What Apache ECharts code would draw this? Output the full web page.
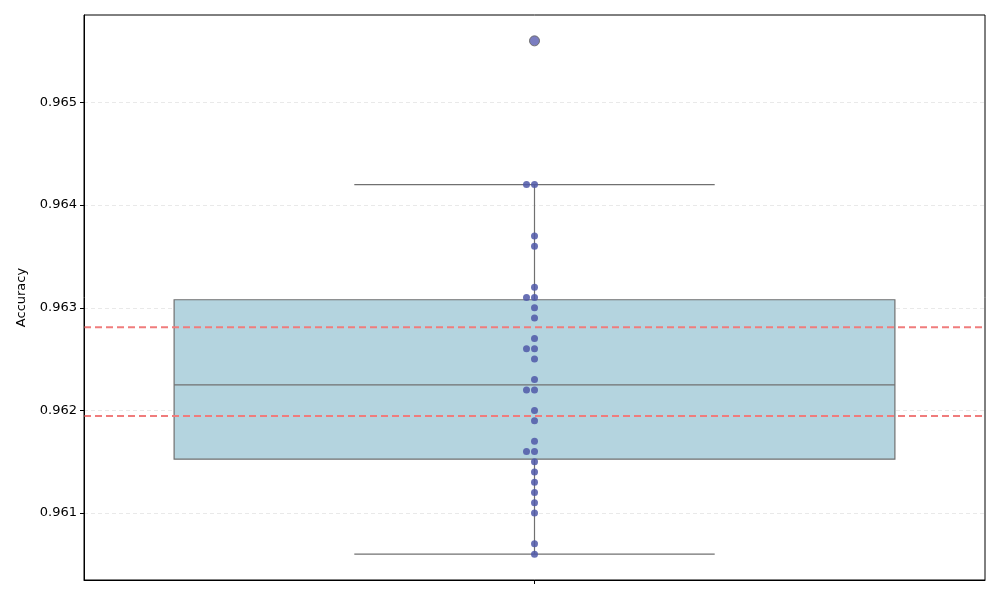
<!DOCTYPE html>
<html><head><meta charset="utf-8">
<script src="https://cdn.jsdelivr.net/npm/echarts@6/dist/echarts.min.js"></script>
<style>html,body{margin:0;padding:0;background:#fff}#c{width:1000px;height:600px}</style>
</head><body><div id="c"></div>
<script>
const categories = [''];
// [lower whisker, Q1, median, Q3, upper whisker]
const boxStats = [0.9606, 0.961525, 0.962248, 0.963078, 0.9642];
const outliers = [0.9656];
const swarmValues = [
  0.9656, 0.9642, 0.9642, 0.9637, 0.9636, 0.9632, 0.9631, 0.9631, 0.9630, 0.9629,
  0.9627, 0.9626, 0.9626, 0.9625, 0.9623, 0.9622, 0.9622, 0.9620, 0.9619, 0.9617,
  0.9616, 0.9616, 0.9615, 0.9614, 0.9613, 0.9612, 0.9611, 0.9610, 0.9607, 0.9606
];
const refLines = [0.96281, 0.961946];
const yTicks = [0.961, 0.962, 0.963, 0.964, 0.965];

const seen = {};
const swarmData = swarmValues.map(v => {
  const k = v.toFixed(4);
  seen[k] = (seen[k] || 0) + 1;
  return { value: [0, v], symbolOffset: [seen[k] > 1 ? -8 : 0, 0] };
});

const chart = echarts.init(document.getElementById('c'));
const lineColor = '#707070';
chart.setOption({
  animation: false,
  grid: { left: 84, right: 15, top: 15, bottom: 20, show: true, borderColor: '#000', borderWidth: 1, backgroundColor: 'transparent', z: 10 },
  xAxis: {
    type: 'category', data: categories, boundaryGap: true,
    axisLine: { show: true, lineStyle: { color: '#000' } },
    axisTick: { show: true, alignWithLabel: true, inside: false, length: 4, lineStyle: { color: '#000' } },
    axisLabel: { show: false },
    splitLine: { show: false }
  },
  yAxis: {
    type: 'value', min: 0.960348, max: 0.965852, splitNumber: 5,
    name: 'Accuracy', nameLocation: 'middle', nameGap: 56, nameRotate: 90,
    nameTextStyle: { fontFamily: 'DejaVu Sans', fontSize: 13, color: '#000' },
    axisLine: { show: true, lineStyle: { color: '#000' } },
    axisTick: { show: true, length: 4, lineStyle: { color: '#000' } },
    axisLabel: {
      fontFamily: 'DejaVu Sans', fontSize: 13, color: '#000', margin: 7,
      showMinLabel: false, showMaxLabel: false,
      formatter: v => yTicks.some(t => Math.abs(t - v) < 1e-7) ? v.toFixed(3) : ''
    },
    splitLine: { show: true, showMinLine: false, showMaxLine: false, lineStyle: { color: '#e3e3e3', type: [4, 3], width: 0.8 } }
  },
  series: [
    {
      type: 'custom', z: 2,
      data: [[0].concat(boxStats)],
      renderItem: (params, api) => {
        const x = api.value(0);
        const band = api.size([1, 0])[0];
        const lo = api.coord([x, api.value(1)]);
        const q1 = api.coord([x, api.value(2)]);
        const md = api.coord([x, api.value(3)]);
        const q3 = api.coord([x, api.value(4)]);
        const hi = api.coord([x, api.value(5)]);
        const cx = lo[0];
        const bh = band * 0.4, ch = band * 0.2;
        const ls = { stroke: lineColor, lineWidth: 1.2 };
        return { type: 'group', children: [
          { type: 'rect', shape: { x: cx - bh, y: q3[1], width: bh * 2, height: q1[1] - q3[1] }, style: { fill: '#b4d4df', stroke: lineColor, lineWidth: 1.2 } },
          { type: 'line', shape: { x1: cx - bh, y1: md[1], x2: cx + bh, y2: md[1] }, style: ls },
          { type: 'line', shape: { x1: cx, y1: q1[1], x2: cx, y2: lo[1] }, style: ls },
          { type: 'line', shape: { x1: cx, y1: q3[1], x2: cx, y2: hi[1] }, style: ls },
          { type: 'line', shape: { x1: cx - ch, y1: lo[1], x2: cx + ch, y2: lo[1] }, style: ls },
          { type: 'line', shape: { x1: cx - ch, y1: hi[1], x2: cx + ch, y2: hi[1] }, style: ls }
        ]};
      }
    },
    {
      type: 'custom', z: 3, silent: true,
      data: refLines.map(v => [0, v]),
      renderItem: (params, api) => {
        const cs = params.coordSys;
        const p = api.coord([0, api.value(1)]);
        return { type: 'line', shape: { x1: cs.x, y1: p[1], x2: cs.x + cs.width, y2: p[1] },
          style: { stroke: '#f07c7c', lineWidth: 2, lineDash: [7, 4] } };
      }
    },
    {
      type: 'scatter', z: 5, data: swarmData,
      symbol: 'circle', symbolSize: 7,
      itemStyle: { color: '#4f58a8', opacity: 0.85 }
    },
    {
      type: 'scatter', z: 6, data: outliers.map(v => [0, v]),
      symbol: 'circle', symbolSize: 10,
      itemStyle: { color: '#7a7dc0', borderColor: '#707070', borderWidth: 1, opacity: 1 }
    }
  ]
});
</script></body></html>
